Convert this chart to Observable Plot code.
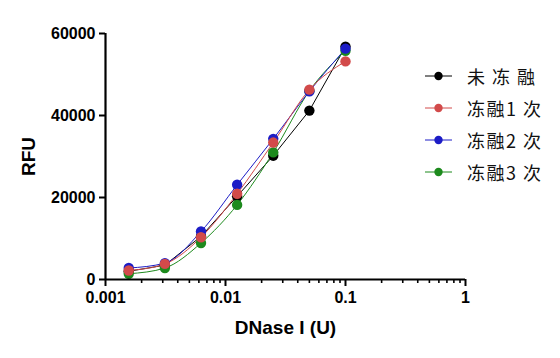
<!DOCTYPE html>
<html><head><meta charset="utf-8">
<script src="https://cdn.jsdelivr.net/npm/d3@7"></script>
<script src="https://cdn.jsdelivr.net/npm/@observablehq/plot@0.6"></script>
<style>
body{margin:0;background:#fff}
#wrap{position:relative;width:560px;height:358px;overflow:hidden}
#legend{position:absolute;left:425px;top:60px;font-family:"Noto Sans CJK SC",sans-serif;font-size:18px;letter-spacing:1.5px;color:#111}
.row{height:32px;display:flex;align-items:center}
.row svg{width:28px;height:32px;margin-right:14px;flex:none}
</style>
</head><body><div id="wrap"><div id="legend"></div></div>
<script>
const doses = [0.0015625, 0.003125, 0.00625, 0.0125, 0.025, 0.05, 0.1];
const seriesNames = ["未 冻 融", "冻融1 次", "冻融2 次", "冻融3 次"];
const colors = ["#000000", "#d24a4a", "#1c1cc6", "#1d8a1d"];
const unthawed = [2000, 3500, 10500, 20300, 30200, 41200, 56800];
const thaw1 = [2200, 3800, 10300, 20900, 33400, 46300, 53200];
const thaw2 = [2800, 4000, 11700, 23100, 34300, 45900, 56300];
const thaw3 = [1400, 2800, 8900, 18200, 31000, 46000, 55800];
const xTicks = [0.001, 0.01, 0.1, 1];
const xTickLabels = ["0.001", "0.01", "0.1", "1"];
const yTicks = [0, 20000, 40000, 60000];
const yTickLabels = ["0", "20000", "40000", "60000"];

const seriesValues = [unthawed, thaw1, thaw2, thaw3];
const data = seriesValues.flatMap((vals, i) => vals.map((v, j) => ({x: doses[j], y: v, s: seriesNames[i]})));
const drawOrder = [0, 3, 2, 1];
const minorTicks = xTicks.slice(0, -1).flatMap(d => d3.range(2, 10).map(k => d * k));

const marks = [];
drawOrder.forEach(i => {
  marks.push(Plot.line(data.filter(d => d.s === seriesNames[i]), {
    x: "x", y: "y", stroke: colors[i], strokeWidth: 1,
    curve: i === 0 ? "linear" : "monotone-x"
  }));
});
drawOrder.forEach(i => {
  marks.push(Plot.dot(data.filter(d => d.s === seriesNames[i]), {
    x: "x", y: "y", r: 5.2, fill: colors[i], stroke: "none"
  }));
});
marks.push(
  Plot.axisX({ticks: minorTicks, tickSize: 4, tickFormat: () => "", strokeWidth: 1.6, label: null}),
  Plot.axisX({ticks: xTicks, tickSize: 7, tickPadding: 5, strokeWidth: 2,
    tickFormat: d => xTickLabels[xTicks.indexOf(d)], fontSize: 16, label: null}),
  Plot.axisY({ticks: yTicks, tickSize: 6, tickPadding: 4, strokeWidth: 2,
    tickFormat: d => yTickLabels[yTicks.indexOf(d)], fontSize: 16, label: null}),
  Plot.ruleX([0.001], {strokeWidth: 2.2}),
  Plot.ruleY([0], {strokeWidth: 2.2}),
  Plot.text(["RFU"], {frameAnchor: "left", textAnchor: "middle", lineAnchor: "middle", dx: -77, rotate: -90, fontSize: 19, fontWeight: "bold", text: d => d}),
  Plot.text(["DNase I (U)"], {frameAnchor: "bottom", textAnchor: "middle", lineAnchor: "middle", dy: 48, fontSize: 19, fontWeight: "bold", text: d => d})
);

const chart = Plot.plot({
  width: 560, height: 358,
  marginLeft: 105, marginRight: 95, marginTop: 33, marginBottom: 79,
  x: {type: "log", domain: [0.001, 1]},
  y: {domain: [0, 60000]},
  style: {fontFamily: "'Liberation Sans', Arial, sans-serif", fontWeight: "bold", fontSize: "16px", color: "#000", background: "transparent"},
  marks
});
document.getElementById("wrap").prepend(chart);

const legend = document.getElementById("legend");
seriesNames.forEach((name, i) => {
  const row = document.createElement("div");
  row.className = "row";
  row.innerHTML = `<svg><line x1="0" x2="27" y1="16" y2="16" stroke="${colors[i]}" stroke-width="1"/><circle cx="13.5" cy="16" r="4.2" fill="${colors[i]}"/></svg><span>${name}</span>`;
  legend.appendChild(row);
});
</script>
</body></html>
